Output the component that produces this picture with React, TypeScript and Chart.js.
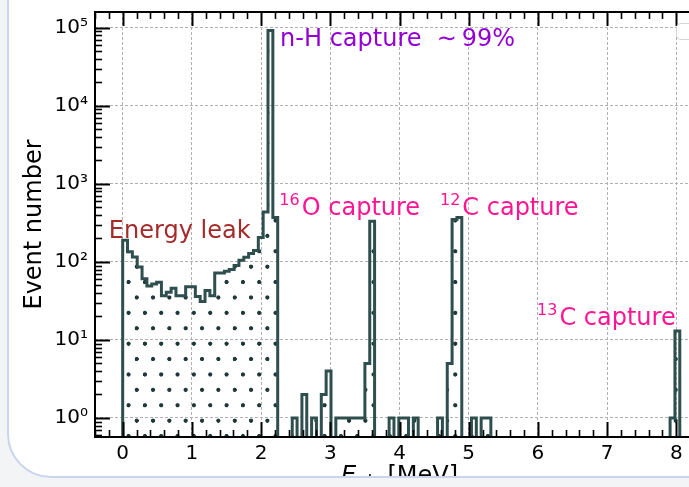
import React, { useEffect, useRef } from "react";
import { Chart, registerables } from "chart.js";

Chart.register(...registerables);
Chart.defaults.font.family = "'DejaVu Sans', sans-serif";

// ---- data ----
const BIN_WIDTH = 0.07; // MeV
const N_BINS = 120;
const X_MIN = -0.4;
const X_MAX = 8.4;
const Y_MIN = 0.57;
const Y_MAX = 1.6e5;

// counts of bins 0..31 (0 - 2.24 MeV): energy leak + n-H peak
const leakCounts = [
  190, 135, 116, 86, 61, 49, 52, 55, 37, 41, 46, 37, 37, 48, 48, 36,
  31, 43, 37, 72, 72, 76, 80, 90, 105, 115, 128, 140, 206, 438, 93000, 372,
];
// sparse bins above 2.24 MeV (bin index -> count)
const tailBins = [35, 37, 39, 41, 42, 44, 45, 46, 47, 48, 49, 50, 51, 55, 57, 58, 60, 65, 67, 68, 69, 72, 74, 75, 113, 114];
const tailCounts = [1, 2, 1, 2, 4, 1, 1, 1, 1, 1, 1, 5, 332, 1, 1, 1, 1, 1, 5, 350, 370, 1, 1, 1, 1, 13];

const xTickValues = [0, 1, 2, 3, 4, 5, 6, 7, 8];
const yTickValues = [1, 10, 100, 1000, 10000, 100000];
const supDigits = ["⁰", "¹", "²", "³", "⁴", "⁵", "⁶", "⁷", "⁸", "⁹"];

const annoSup = ["", "16", "12", "", "13"];
const annoMain = ["n-H capture  ∼\u200999%", "O capture", "C capture", "Energy leak", "C capture"];
const annoX = [2.275, 2.264, 4.585, -0.2, 5.988];
const annoY = [58000, 397, 397, 200, 15.4];
const annoColor = ["#9400d3", "#ff1493", "#ff1493", "#a52a2a", "#ff1493"];

const LINE_COLOR = "#2f4f4f";
const FONT = "'DejaVu Sans', sans-serif";

function buildPoints() {
  const counts: number[] = new Array(N_BINS).fill(0);
  leakCounts.forEach((c, i) => (counts[i] = c));
  tailBins.forEach((b, k) => (counts[b] = tailCounts[k]));
  const EMPTY = 1e-3;
  const pts: { x: number; y: number }[] = [{ x: 0, y: EMPTY }];
  counts.forEach((c, i) => {
    const v = c > 0 ? c : EMPTY;
    pts.push({ x: i * BIN_WIDTH, y: v });
    pts.push({ x: (i + 1) * BIN_WIDTH, y: v });
  });
  pts.push({ x: N_BINS * BIN_WIDTH, y: EMPTY });
  return pts;
}

function makeHatch(ctx: CanvasRenderingContext2D): CanvasPattern | string {
  const W = 32.67, H = 30.8, S = 2;
  const c = document.createElement("canvas");
  c.width = Math.round(W * S);
  c.height = Math.round(H * S);
  const g = c.getContext("2d")!;
  g.scale(c.width / W, c.height / H);
  g.fillStyle = "#1f3838";
  const dots = [[6.0, 20.2], [22.3, 20.2], [14.2, 4.8], [30.5, 4.8]];
  for (const [dx, dy] of dots) {
    g.beginPath();
    g.arc(dx, dy, 2.1, 0, Math.PI * 2);
    g.fill();
  }
  const p = ctx.createPattern(c, "repeat");
  if (!p) return "rgba(0,0,0,0)";
  try {
    p.setTransform(new DOMMatrix([W / c.width, 0, 0, H / c.height, 0, 0]));
  } catch (e) {}
  return p;
}

const axesPlugin = {
  id: "axesFrame",
  afterDatasetsDraw(chart: any) {
    const { ctx, chartArea } = chart;
    const { left, right, top, bottom } = chartArea;
    const xs = chart.scales.x;
    const ys = chart.scales.y;
    ctx.save();
    ctx.strokeStyle = "#000";
    ctx.lineCap = "butt";
    // x ticks (bottom & top), inward
    for (let k = Math.ceil(X_MIN / 0.2); k <= Math.floor(X_MAX / 0.2); k++) {
      const v = k * 0.2;
      const major = Math.abs(v - Math.round(v)) < 1e-6;
      const px = Math.round(xs.getPixelForValue(v)) + 0.5;
      if (px < left || px > right) continue;
      ctx.lineWidth = major ? 2 : 1.6;
      const lb = major ? 15 : 7;
      const lt = major ? 14 : 7;
      ctx.beginPath();
      ctx.moveTo(px, bottom);
      ctx.lineTo(px, bottom - lb);
      ctx.moveTo(px, top);
      ctx.lineTo(px, top + lt);
      ctx.stroke();
    }
    // y ticks (left), inward
    for (let e = -1; e <= 5; e++) {
      for (let m = 1; m <= 9; m++) {
        const v = m * Math.pow(10, e);
        if (v < Y_MIN || v > Y_MAX) continue;
        const py = Math.round(ys.getPixelForValue(v)) + 0.5;
        ctx.lineWidth = m === 1 ? 2 : 1.6;
        ctx.beginPath();
        ctx.moveTo(left, py);
        ctx.lineTo(left + (m === 1 ? 15 : 7), py);
        ctx.stroke();
      }
    }
    // spines
    ctx.lineWidth = 2;
    ctx.strokeRect(left, top, right - left, bottom - top);
    ctx.restore();
  },
};

const annotationPlugin = {
  id: "annotations",
  afterDraw(chart: any) {
    const { ctx } = chart;
    const xs = chart.scales.x;
    const ys = chart.scales.y;
    ctx.save();
    ctx.textBaseline = "alphabetic";
    ctx.textAlign = "left";
    annoMain.forEach((txt, i) => {
      let x = xs.getPixelForValue(annoX[i]);
      const y = ys.getPixelForValue(annoY[i]);
      ctx.fillStyle = annoColor[i];
      if (annoSup[i]) {
        ctx.font = `16px ${FONT}`;
        ctx.fillText(annoSup[i], x, y - 10);
        x += ctx.measureText(annoSup[i]).width + 2;
      }
      ctx.font = `24px ${FONT}`;
      ctx.fillText(txt, x, y);
    });
    // x-axis title: E_vis [MeV]
    const { left, right, bottom } = chart.chartArea;
    const base = bottom + 45.5;
    ctx.fillStyle = "#000";
    const fE = `italic 24px ${FONT}`;
    const fSub = `italic 17px ${FONT}`;
    const fN = `24px ${FONT}`;
    ctx.font = fE;
    const wE = ctx.measureText("E").width;
    ctx.font = fSub;
    const wS = ctx.measureText("vis").width;
    ctx.font = fN;
    const wN = ctx.measureText(" [MeV]").width;
    let x0 = (left + right) / 2 - (wE + wS + wN) / 2;
    ctx.font = fE;
    ctx.fillText("E", x0, base);
    x0 += wE;
    ctx.font = fSub;
    ctx.fillText("vis", x0, base + 5);
    x0 += wS;
    ctx.font = fN;
    ctx.fillText(" [MeV]", x0, base);
    ctx.restore();
  },
};

export default function App() {
  const ref = useRef<HTMLCanvasElement>(null);
  useEffect(() => {
    const canvas = ref.current!;
    const ctx = canvas.getContext("2d")!;
    const hatch = makeHatch(ctx);
    const gridDash = [3, 2];
    const chart = new Chart(canvas, {
      type: "line",
      data: {
        datasets: [
          {
            data: buildPoints(),
            borderColor: LINE_COLOR,
            borderWidth: 3,
            borderJoinStyle: "miter",
            pointRadius: 0,
            tension: 0,
            fill: "start",
            backgroundColor: hatch as any,
          } as any,
        ],
      },
      options: {
        responsive: false,
        animation: false,
        devicePixelRatio: 1,
        layout: { padding: { top: 12, right: 26, bottom: 0, left: 0 } },
        plugins: { legend: { display: false }, tooltip: { enabled: false } },
        scales: {
          x: {
            type: "linear",
            min: X_MIN,
            max: X_MAX,
            afterBuildTicks: (s: any) => {
              s.ticks = xTickValues.map((v) => ({ value: v }));
            },
            afterFit: (s: any) => {
              s.height = 50;
              s.paddingLeft = 0;
              s.paddingRight = 0;
            },
            grid: { color: "#b0b0b0", lineWidth: 1, drawTicks: false },
            border: { display: false, dash: gridDash },
            ticks: {
              padding: 5,
              autoSkip: false,
              maxRotation: 0,
              color: "#000",
              font: { size: 20 },
              callback: (v: any) => String(v),
            },
          },
          y: {
            type: "logarithmic",
            min: Y_MIN,
            max: Y_MAX,
            afterBuildTicks: (s: any) => {
              s.ticks = yTickValues.map((v) => ({ value: v }));
            },
            afterFit: (s: any) => {
              s.width = 95;
              s.paddingTop = 0;
              s.paddingBottom = 0;
            },
            grid: { color: "#b0b0b0", lineWidth: 1, drawTicks: false },
            border: { display: false, dash: gridDash },
            ticks: {
              padding: 7,
              autoSkip: false,
              color: "#000",
              font: { size: 20 },
              callback: (v: any) => "10" + supDigits[Math.round(Math.log10(Number(v)))],
            },
            title: {
              display: true,
              text: "Event number",
              color: "#000",
              font: { size: 24 },
              padding: { top: 20, bottom: 0 },
            },
          },
        },
      } as any,
      plugins: [axesPlugin, annotationPlugin],
    });
    return () => chart.destroy();
  }, []);

  return (
    <div
      style={{
        position: "fixed",
        left: 0,
        top: 0,
        width: 689,
        height: 487,
        overflow: "hidden",
        background: "#f3f4f6",
      }}
    >
      <div
        style={{
          position: "absolute",
          left: 7,
          top: -60,
          width: 760,
          height: 538,
          boxSizing: "border-box",
          border: "2px solid #c9d5ee",
          borderRadius: 44,
          background: "#ffffff",
        }}
      />
      <div
        style={{
          position: "absolute",
          left: 0,
          top: 0,
          width: 689,
          height: 476,
          overflow: "hidden",
        }}
      >
        <canvas ref={ref} width={730} height={487} style={{ display: "block", width: 730, height: 487 }} />
      </div>
      <div
        style={{
          position: "absolute",
          left: 676,
          top: 23,
          width: 40,
          height: 17,
          boxSizing: "border-box",
          border: "1px solid #d4d4d4",
          borderRadius: 5,
          background: "#ffffff",
        }}
      />
    </div>
  );
}
